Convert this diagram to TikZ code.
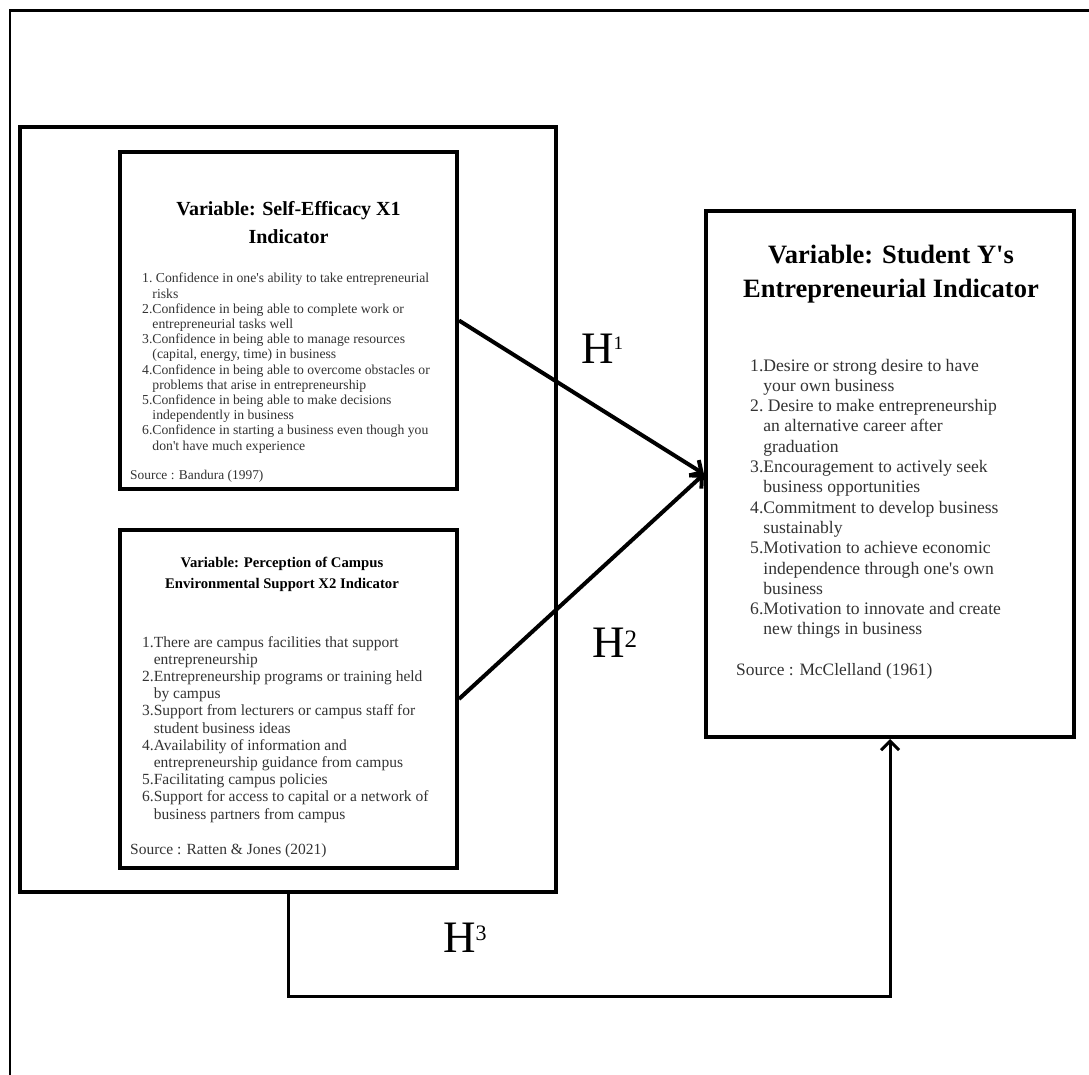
\documentclass[tikz,border=0pt]{standalone}
\usepackage{fontspec}
\setmainfont{Liberation Serif}[Ligatures=TeXOff]
\usetikzlibrary{arrows.meta}
\definecolor{txt}{HTML}{333333}
\newcommand\hsup[3]{\raisebox{#2pt}{\fontsize{#1}{#1}\selectfont #3}}
\begin{document}
\begin{tikzpicture}[x=1pt,y=-1pt,
  box/.style={draw, rectangle, line width=4pt, inner sep=0pt},
  ttl/.style={anchor=base, inner sep=0pt, font=\bfseries},
  lst/.style={anchor=base west, inner sep=0pt, text=txt},
  src/.style={anchor=base west, inner sep=0pt, text=txt},
  hyp/.style={anchor=base west, inner sep=0pt, font=\fontsize{45}{50}\selectfont},
  conn/.style={line width=4pt, -{Straight Barb[length=9pt,width=18pt]}}]
\useasboundingbox (0,0) rectangle (1089,1075);
\fill[white] (0,0) rectangle (1089,1075);
% outer frame (cut off at right and bottom)
\draw[line width=2.5pt] (10,1075) -- (10,10.5) -- (1089,10.5);
% boxes
\node[box, line width=4.5pt, minimum width=536pt, minimum height=765pt] (big) at (288,509.5) {};
\node[box, minimum width=337pt, minimum height=337pt] (b1) at (288.5,320.5) {};
\node[box, minimum width=337pt, minimum height=338pt] (b2) at (288.5,699) {};
\node[box, minimum width=368pt, minimum height=526pt] (ry) at (890,474) {};
% box 1 text
\node[ttl, font=\bfseries\fontsize{20}{28}\selectfont] (t1a) at (288.5,216) {Variable: Self-Efficacy X1};
\node[ttl, font=\bfseries\fontsize{20}{28}\selectfont] (t1b) at (288.5,244) {Indicator};
\node[lst, font=\fontsize{13.7}{15.2}\selectfont] (l1) at (142,283) {%
\begin{tabular}[t]{@{}l@{}l@{}}
1. & \ Confidence in one's ability to take entrepreneurial\\
   & risks\\
2. & Confidence in being able to complete work or\\
   & entrepreneurial tasks well\\
3. & Confidence in being able to manage resources\\
   & (capital, energy, time) in business\\
4. & Confidence in being able to overcome obstacles or\\
   & problems that arise in entrepreneurship\\
5. & Confidence in being able to make decisions\\
   & independently in business\\
6. & Confidence in starting a business even though you\\
   & don't have much experience
\end{tabular}};
\node[src, font=\fontsize{13.4}{15}\selectfont] (s1) at (130,479) {Source : Bandura (1997)};
% box 2 text
\node[ttl, font=\bfseries\fontsize{14.7}{21}\selectfont] (t2a) at (282,567) {Variable: Perception of Campus};
\node[ttl, font=\bfseries\fontsize{14.7}{21}\selectfont] (t2b) at (282,588) {Environmental Support X2 Indicator};
\node[lst, font=\fontsize{15.5}{17.2}\selectfont] (l2) at (142,647) {%
\begin{tabular}[t]{@{}l@{}l@{}}
1. & There are campus facilities that support\\
   & entrepreneurship\\
2. & Entrepreneurship programs or training held\\
   & by campus\\
3. & Support from lecturers or campus staff for\\
   & student business ideas\\
4. & Availability of information and\\
   & entrepreneurship guidance from campus\\
5. & Facilitating campus policies\\
6. & Support for access to capital or a network of\\
   & business partners from campus
\end{tabular}};
\node[src, font=\fontsize{15.5}{17}\selectfont] (s2) at (130,854) {Source : Ratten \& Jones (2021)};
% right box text
\node[ttl, font=\bfseries\fontsize{26.5}{34}\selectfont] (t3a) at (891,264) {Variable: Student Y's};
\node[ttl, font=\bfseries\fontsize{26.5}{34}\selectfont] (t3b) at (891,298) {Entrepreneurial Indicator};
\node[lst, font=\fontsize{17.6}{20.3}\selectfont] (l3) at (750,371) {%
\begin{tabular}[t]{@{}l@{}l@{}}
1. & Desire or strong desire to have\\
   & your own business\\
2. & \ Desire to make entrepreneurship\\
   & an alternative career after\\
   & graduation\\
3. & Encouragement to actively seek\\
   & business opportunities\\
4. & Commitment to develop business\\
   & sustainably\\
5. & Motivation to achieve economic\\
   & independence through one's own\\
   & business\\
6. & Motivation to innovate and create\\
   & new things in business
\end{tabular}};
\node[src, font=\fontsize{17.4}{19}\selectfont] (s3) at (736,675) {Source : McClelland (1961)};
% hypotheses labels
\node[hyp] (h1) at (581,363) {H\hsup{19}{14}{1}};
\node[hyp] (h2) at (592,657) {H\hsup{25}{10}{2}};
\node[hyp] (h3) at (443,952) {H\hsup{22}{12}{3}};
% connectors
\draw[conn] (b1.east) -- (ry.west);
\draw[conn] (b2.east) -- (ry.west);
\coordinate (h3turn) at (288,996);
\draw[conn, line width=3pt] (big.south) -- (h3turn) -| (ry.south);
\end{tikzpicture}
\end{document}
